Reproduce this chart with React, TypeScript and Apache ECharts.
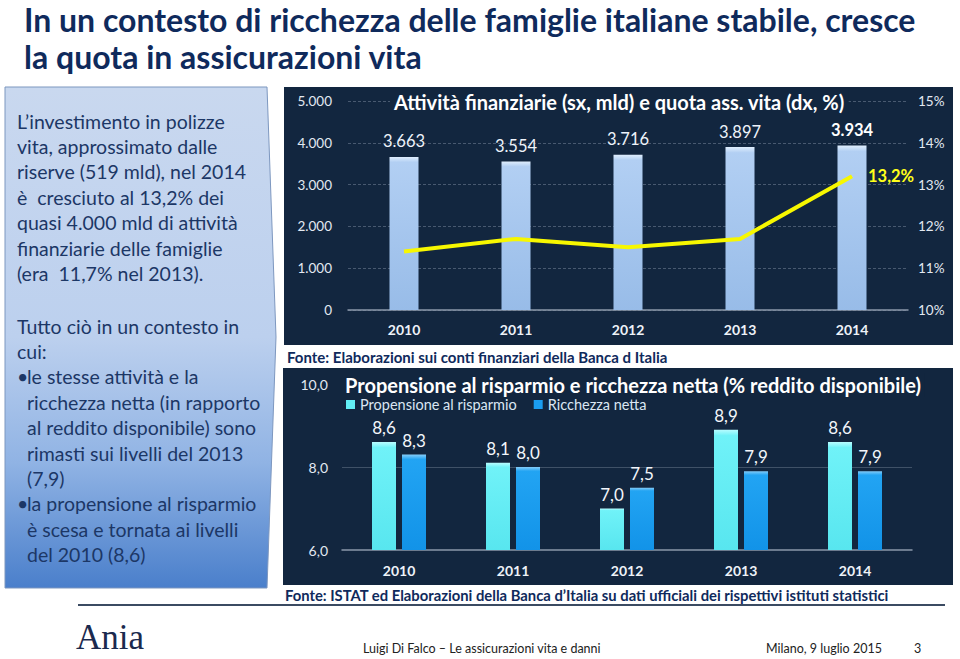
import React, { useEffect, useRef } from "react";
import * as echarts from "echarts";

const years = ["2010", "2011", "2012", "2013", "2014"];
const financialAssets = [3663, 3554, 3716, 3897, 3934];
const lifeShare = [11.4, 11.7, 11.5, 11.7, 13.2];
const savingsRate = [8.6, 8.1, 7.0, 8.9, 8.6];
const netWealth = [8.3, 8.0, 7.5, 7.9, 7.9];

const topTitle = "Attività finanziarie (sx, mld) e quota ass. vita (dx, %)";
const bottomTitle = "Propensione al risparmio e ricchezza netta (% reddito disponibile)";
const seriesNames = ["Propensione al risparmio", "Ricchezza netta"];
const headline = [
  "In un contesto di ricchezza delle famiglie italiane stabile, cresce",
  "la quota in assicurazioni vita",
];
const boxPara1 = [
  "L\u2019investimento in polizze",
  "vita, approssimato dalle",
  "riserve (519 mld), nel 2014",
  "è  cresciuto al 13,2% dei",
  "quasi 4.000 mld di attività",
  "finanziarie delle famiglie",
  "(era  11,7% nel 2013).",
];
const boxPara2 = ["Tutto ciò in un contesto in", "cui:"];
const bullet1 = [
  "le stesse attività e la",
  "ricchezza netta (in rapporto",
  "al reddito disponibile) sono",
  "rimasti sui livelli del 2013",
  "(7,9)",
];
const bullet2 = [
  "la propensione al risparmio",
  "è scesa e tornata ai livelli",
  "del 2010 (8,6)",
];
const source1 = "Fonte: Elaborazioni sui conti finanziari della Banca d Italia";
const source2 =
  "Fonte: ISTAT ed Elaborazioni della Banca d\u2019Italia su dati ufficiali dei rispettivi istituti statistici";

const FONT = "Lato, 'Noto Sans', sans-serif";
const NAVY = "#0f2a5c";
const PANEL = "#12263f";

const thousands = (v: number) => String(v).replace(/\B(?=(\d{3})+(?!\d))/g, ".");
const comma1 = (v: number) => v.toFixed(1).replace(".", ",");

export default function App() {
  const ref = useRef<HTMLDivElement>(null);
  useEffect(() => {
    if (!ref.current) return;
    const chart = echarts.init(ref.current, null, { renderer: "svg" });

    const txt = (text: string, x: number, y: number, size: number, opts: any = {}) => ({
      type: "text",
      x,
      y,
      z: opts.z ?? 20,
      style: {
        text,
        fill: opts.fill ?? NAVY,
        fontSize: size,
        fontWeight: opts.weight ?? "normal",
        fontFamily: opts.family ?? FONT,
        align: opts.align ?? "left",
        verticalAlign: "middle",
        backgroundColor: opts.bg,
        padding: opts.pad,
      },
    });

    const lh = 25.4;
    const BOXTXT = "#1c3766";
    const boxTexts: any[] = [];
    boxPara1.forEach((t, i) => boxTexts.push(txt(t, 17, 121 + i * lh, 19.5, { fill: BOXTXT })));
    const p2y = 326;
    boxPara2.forEach((t, i) => boxTexts.push(txt(t, 17, p2y + i * lh, 19.5, { fill: BOXTXT })));
    const b1y = p2y + 2 * lh;
    boxTexts.push(txt("•", 17, b1y, 19.5, { fill: BOXTXT }));
    bullet1.forEach((t, i) => boxTexts.push(txt(t, 27, b1y + i * lh, 19.5, { fill: BOXTXT })));
    const b2y = b1y + bullet1.length * lh;
    boxTexts.push(txt("•", 17, b2y, 19.5, { fill: BOXTXT }));
    bullet2.forEach((t, i) => boxTexts.push(txt(t, 27, b2y + i * lh, 19.5, { fill: BOXTXT })));

    const graphic: any[] = [
      // headline
      txt(headline[0], 24, 19, 32, { weight: "bold" }),
      txt(headline[1], 24, 56, 32, { weight: "bold" }),
      // left box
      {
        type: "polygon",
        z: -10,
        shape: { points: [[5, 87], [267, 87], [276, 337], [267, 588], [5, 588]] },
        style: {
          fill: new echarts.graphic.LinearGradient(0, 0, 0, 1, [
            { offset: 0, color: "#c9d8ef" },
            { offset: 0.5, color: "#bcd0ee" },
            { offset: 0.75, color: "#90b3e4" },
            { offset: 1, color: "#4a7fcb" },
          ]),
          stroke: "#7d97bf",
          lineWidth: 1,
        },
      },
      ...boxTexts,
      // panels
      { type: "rect", z: -10, shape: { x: 284, y: 87, width: 669, height: 258 }, style: { fill: PANEL } },
      { type: "rect", z: -10, shape: { x: 283, y: 368, width: 670, height: 217 }, style: { fill: PANEL } },
      txt(topTitle, 390, 102, 20, { weight: "bold", fill: "#ffffff", bg: PANEL, pad: [2, 4], z: 30 }),
      txt(bottomTitle, 341, 385, 20, { weight: "bold", fill: "#ffffff", bg: PANEL, pad: [2, 4], z: 30 }),
      txt(source1, 287, 357, 15, { weight: "bold" }),
      txt(source2, 285, 595, 14.8, { weight: "bold" }),
      // footer
      { type: "line", z: 5, shape: { x1: 78, y1: 605, x2: 945, y2: 605 }, style: { stroke: "#3b4b62", lineWidth: 2 } },
      txt("Ania", 76, 637, 35, { family: "'Liberation Serif', 'DejaVu Serif', serif", fill: "#1b2a4e" }),
      txt("Luigi Di Falco \u2013 Le assicurazioni vita e danni", 363, 648, 12.5, { fill: "#222222" }),
      txt("Milano, 9 luglio 2015", 766, 648, 12.5, { fill: "#222222" }),
      txt("3", 914, 648, 12.5, { fill: "#222222" }),
    ];

    const option: any = {
      animation: false,
      backgroundColor: "#ffffff",
      textStyle: { fontFamily: FONT },
      graphic: { elements: graphic },
      legend: {
        left: 346,
        top: 397,
        itemWidth: 9,
        itemHeight: 9,
        itemGap: 17,
        icon: "rect",
        padding: 0,
        textStyle: { color: "#dbe6f3", fontSize: 14.5, fontFamily: FONT },
        data: [
          { name: seriesNames[0], itemStyle: { color: "#62eef5" } },
          { name: seriesNames[1], itemStyle: { color: "#1a9df0" } },
        ],
      },
      grid: [
        { left: 348, right: 52, top: 101, bottom: 349 },
        { left: 342, right: 48, top: 384, bottom: 109 },
      ],
      xAxis: [
        {
          type: "category",
          gridIndex: 0,
          data: years,
          axisLine: { lineStyle: { color: "#8b98aa", width: 1.5 } },
          axisTick: { show: false },
          axisLabel: { color: "#eef2f8", fontWeight: "bold", fontSize: 14, margin: 12, fontFamily: FONT },
        },
        {
          type: "category",
          gridIndex: 1,
          data: years,
          axisLine: { lineStyle: { color: "#8b98aa", width: 1.5 } },
          axisTick: { show: false },
          axisLabel: { color: "#eef2f8", fontWeight: "bold", fontSize: 14, margin: 13, fontFamily: FONT },
        },
      ],
      yAxis: [
        {
          type: "value",
          gridIndex: 0,
          min: 0,
          max: 5000,
          interval: 1000,
          axisLine: { show: false },
          axisTick: { show: false },
          axisLabel: { color: "#e3e9f2", fontSize: 13.5, margin: 16, formatter: (v: number) => thousands(v), fontFamily: FONT },
          splitLine: { lineStyle: { color: "rgba(200,210,225,0.3)", type: [3, 2], width: 1 } },
        },
        {
          type: "value",
          gridIndex: 0,
          min: 10,
          max: 15,
          interval: 1,
          position: "right",
          axisLine: { show: false },
          axisTick: { show: false },
          axisLabel: { color: "#e3e9f2", fontSize: 13.5, margin: 10, formatter: (v: number) => v + "%", fontFamily: FONT },
          splitLine: { show: false },
        },
        {
          type: "value",
          gridIndex: 1,
          min: 6,
          max: 10,
          interval: 2,
          axisLine: { show: false },
          axisTick: { show: false },
          axisLabel: { color: "#e3e9f2", fontSize: 14, margin: 14, formatter: (v: number) => comma1(v), fontFamily: FONT },
          splitLine: { lineStyle: { color: ["transparent", "rgba(200,210,225,0.25)", "transparent"], width: 1 } },
        },
      ],
      series: [
        {
          type: "bar",
          name: "Attività finanziarie",
          xAxisIndex: 0,
          yAxisIndex: 0,
          barWidth: 29,
          itemStyle: {
            color: new echarts.graphic.LinearGradient(0, 0, 0, 1, [
              { offset: 0, color: "#e0eefd" },
              { offset: 0.035, color: "#b2cff3" },
              { offset: 1, color: "#98bce8" },
            ]),
          },
          label: {
            show: true,
            position: "top",
            distance: 7,
            color: "#eef3fa",
            fontSize: 16.5,
            fontFamily: FONT,
            formatter: (p: any) => thousands(p.value),
          },
          data: financialAssets.map((v, i) =>
            i === financialAssets.length - 1 ? { value: v, label: { fontWeight: "bold", color: "#ffffff" } } : v
          ),
        },
        {
          type: "line",
          name: "Quota assicurazioni vita",
          xAxisIndex: 0,
          yAxisIndex: 1,
          symbol: "circle",
          symbolSize: 0,
          showSymbol: true,
          z: 5,
          itemStyle: { color: "#f7f700" },
          lineStyle: { color: "#f7f700", width: 4 },
          label: { show: false },
          data: lifeShare.map((v, i) =>
            i === lifeShare.length - 1
              ? {
                  value: v,
                  label: {
                    show: true,
                    position: "right",
                    distance: 16,
                    formatter: (p: any) => comma1(p.value) + "%",
                    color: "#ffff1a",
                    fontWeight: "bold",
                    fontSize: 16.5,
                    fontFamily: FONT,
                  },
                }
              : v
          ),
        },
        {
          type: "bar",
          name: seriesNames[0],
          xAxisIndex: 1,
          yAxisIndex: 2,
          barWidth: 24,
          barGap: "25%",
          itemStyle: {
            color: new echarts.graphic.LinearGradient(0, 0, 0, 1, [
              { offset: 0, color: "#b8fcff" },
              { offset: 0.05, color: "#70f2f8" },
              { offset: 1, color: "#58e6ef" },
            ]),
          },
          label: {
            show: true,
            position: "top",
            distance: 6,
            color: "#f2f6fb",
            fontSize: 17,
            fontFamily: FONT,
            formatter: (p: any) => comma1(p.value),
          },
          data: savingsRate,
        },
        {
          type: "bar",
          name: seriesNames[1],
          xAxisIndex: 1,
          yAxisIndex: 2,
          barWidth: 24,
          barGap: "25%",
          itemStyle: {
            color: new echarts.graphic.LinearGradient(0, 0, 0, 1, [
              { offset: 0, color: "#86cdf9" },
              { offset: 0.05, color: "#22a4f3" },
              { offset: 1, color: "#1293e8" },
            ]),
          },
          label: {
            show: true,
            position: "top",
            distance: 6,
            color: "#f2f6fb",
            fontSize: 17,
            fontFamily: FONT,
            formatter: (p: any) => comma1(p.value),
          },
          data: netWealth,
        },
      ],
    };

    chart.setOption(option);
    return () => chart.dispose();
  }, []);

  return (
    <div
      ref={ref}
      style={{ position: "fixed", left: 0, top: 0, width: 960, height: 659, background: "#ffffff" }}
    />
  );
}
